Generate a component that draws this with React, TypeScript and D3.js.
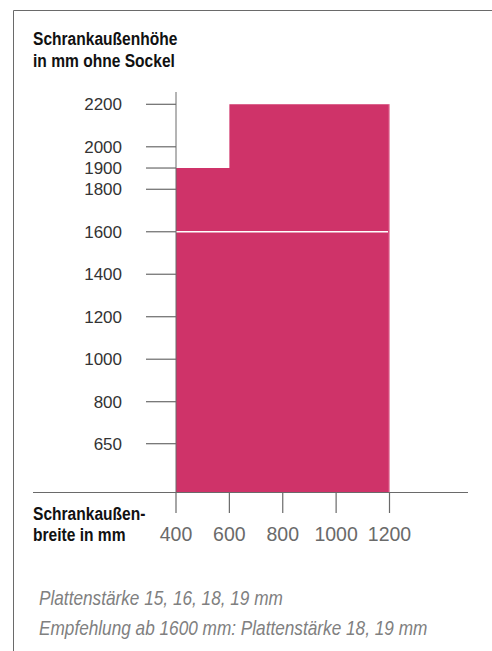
import React from "react";
import * as d3 from "d3";

// ---- data ----
const widthEdges = [400, 600, 1200]; // Schrankaußenbreite in mm
const heights = [1900, 2200]; // Schrankaußenhöhe in mm per width segment
const yTicks = [650, 800, 1000, 1200, 1400, 1600, 1800, 1900, 2000, 2200];
const xTicks = [400, 600, 800, 1000, 1200];
const recommendationLevel = 1600;
const yTitle = ["Schrankaußenhöhe", "in mm ohne Sockel"];
const xTitle = ["Schrankaußen-", "breite in mm"];
const notes = [
  "Plattenstärke 15, 16, 18, 19 mm",
  "Empfehlung ab 1600 mm: Plattenstärke 18, 19 mm",
];

const W = 492;
const H = 651;
const SANS = "'Liberation Sans', Arial, Helvetica, sans-serif";
const AXIS = "#6a6a6a";
const BAR = "#cf3369";
const CONDENSE = 0.82;

function NarrowText(props: {
  x: number;
  y: number;
  size: number;
  weight?: string;
  italic?: boolean;
  fill: string;
  children: string;
}) {
  return (
    <g transform={`translate(${props.x},${props.y}) scale(${CONDENSE},1)`}>
      <text
        x={0}
        y={0}
        fontFamily={SANS}
        fontWeight={props.weight || "normal"}
        fontStyle={props.italic ? "italic" : "normal"}
        fontSize={props.size}
        fill={props.fill}
      >
        {props.children}
      </text>
    </g>
  );
}

export default function App() {
  const x = d3.scaleLinear().domain([400, 1200]).range([176, 389.5]);
  // truncated axis: lower part compressed below 800
  const y = d3
    .scaleLinear()
    .domain([500, 650, 800, 2200])
    .range([492.5, 443.7, 401.7, 104.3]);
  const baseY = 492.5;

  const segments = heights.map((h, i) => ({
    x0: widthEdges[i],
    x1: widthEdges[i + 1],
    h,
  }));

  const stepArea = d3
    .area<{ x: number; h: number }>()
    .x((d) => x(d.x))
    .y0(baseY)
    .y1((d) => y(d.h))
    .curve(d3.curveStepAfter);
  const pts = [
    ...segments.map((s) => ({ x: s.x0, h: s.h })),
    { x: widthEdges[widthEdges.length - 1], h: heights[heights.length - 1] },
  ];

  return (
    <svg
      width={W}
      height={H}
      style={{ position: "absolute", left: 0, top: 0, background: "#fff" }}
    >
      {/* frame */}
      <line x1={13.5} y1={10.5} x2={W} y2={10.5} stroke={AXIS} strokeWidth={1} />
      <line x1={13.5} y1={10.5} x2={13.5} y2={H} stroke={AXIS} strokeWidth={1} />

      {/* y title */}
      {yTitle.map((t, i) => (
        <NarrowText key={t} x={33} y={45 + i * 22} size={19} weight="bold" fill="#111">
          {t}
        </NarrowText>
      ))}

      {/* bars */}
      <path d={stepArea(pts) || ""} fill={BAR} />
      <line
        x1={x(400)}
        x2={x(1200) - 1.5}
        y1={y(recommendationLevel)}
        y2={y(recommendationLevel)}
        stroke="#fff"
        strokeWidth={1.4}
      />
      <line
        x1={x(1200) - 0.3}
        x2={x(1200) - 0.3}
        y1={y(heights[1])}
        y2={baseY}
        stroke="#ec9bb8"
        strokeWidth={0.8}
      />

      {/* y axis */}
      <line x1={176} x2={176} y1={92} y2={baseY} stroke={AXIS} strokeWidth={1} />
      {yTicks.map((t) => (
        <g key={t}>
          <line x1={146} x2={176} y1={y(t)} y2={y(t)} stroke={AXIS} strokeWidth={1.2} />
          <text
            x={122}
            y={y(t) + 6}
            textAnchor="end"
            fontFamily={SANS}
            fontSize={17}
            fill="#333"
          >
            {t}
          </text>
        </g>
      ))}

      {/* x axis */}
      <line x1={33} x2={468} y1={baseY} y2={baseY} stroke={AXIS} strokeWidth={1.2} />
      {xTicks.map((t) => (
        <g key={t}>
          <line x1={x(t)} x2={x(t)} y1={baseY} y2={513} stroke={AXIS} strokeWidth={1.2} />
          <text
            x={x(t)}
            y={541}
            textAnchor="middle"
            fontFamily={SANS}
            fontSize={19.5}
            fill="#6a6a6a"
          >
            {t}
          </text>
        </g>
      ))}
      {xTitle.map((t, i) => (
        <NarrowText key={t} x={33} y={519.5 + i * 21.5} size={19} weight="bold" fill="#111">
          {t}
        </NarrowText>
      ))}

      {/* notes */}
      {notes.map((t, i) => (
        <NarrowText key={t} x={39} y={605 + i * 30} size={21} italic fill="#808080">
          {t}
        </NarrowText>
      ))}
    </svg>
  );
}
